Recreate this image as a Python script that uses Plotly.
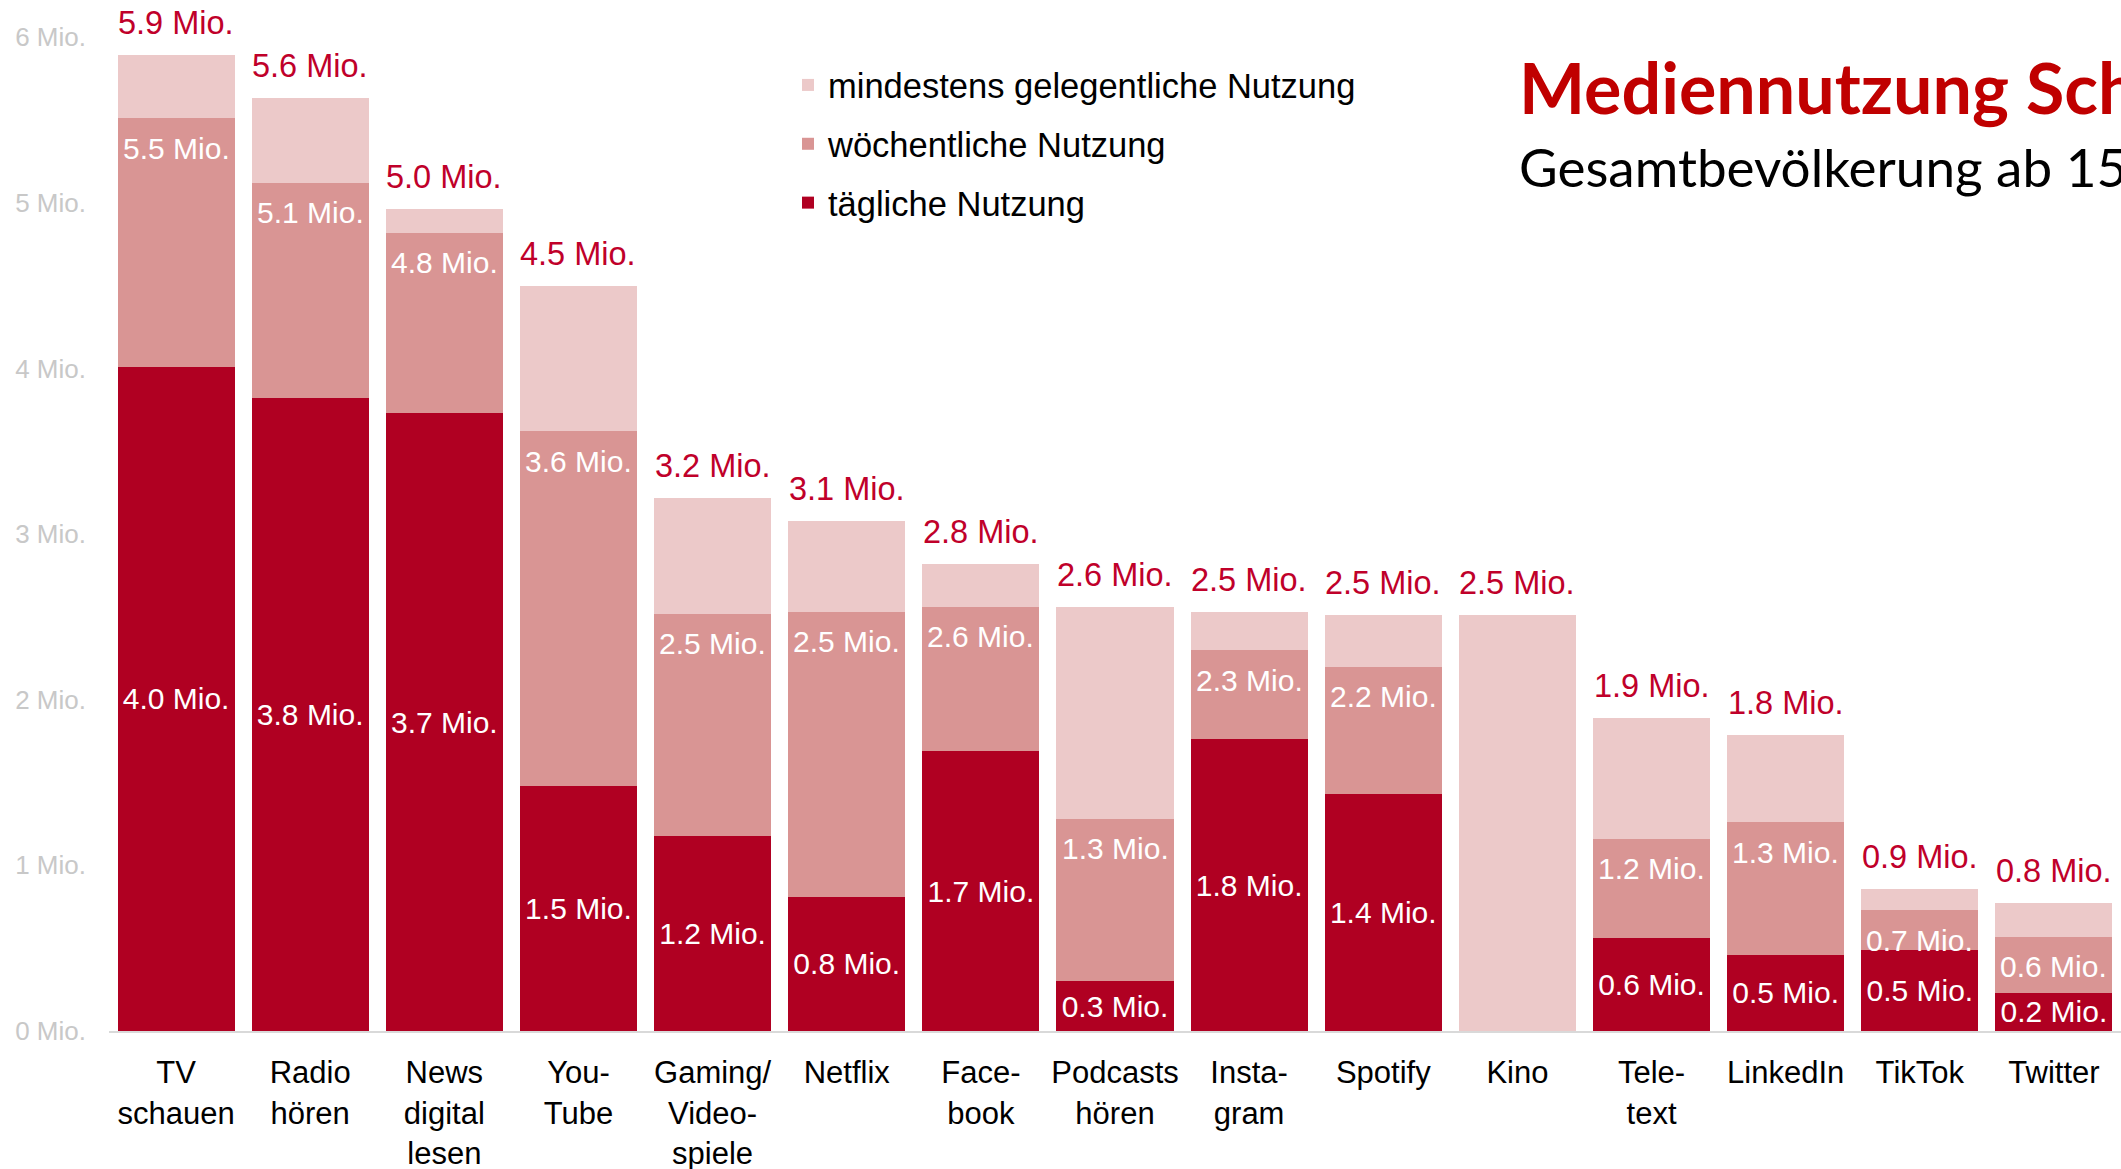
import plotly.graph_objects as go

# ---------------- data ----------------
categories = ["TV<br>schauen", "Radio<br>hören", "News<br>digital<br>lesen", "You-<br>Tube",
              "Gaming/<br>Video-<br>spiele", "Netflix", "Face-<br>book", "Podcasts<br>hören",
              "Insta-<br>gram", "Spotify", "Kino", "Tele-<br>text", "LinkedIn", "TikTok", "Twitter"]

# cumulative reach in millions
daily = [4.01, 3.82, 3.73, 1.48, 1.18, 0.81, 1.69, 0.30, 1.76, 1.43, 0.0, 0.56, 0.46, 0.49, 0.23]
weekly = [5.51, 5.12, 4.82, 3.62, 2.52, 2.53, 2.56, 1.28, 2.30, 2.20, 0.0, 1.16, 1.26, 0.73, 0.57]
occasional = [5.89, 5.63, 4.96, 4.50, 3.22, 3.08, 2.82, 2.56, 2.53, 2.51, 2.51, 1.89, 1.79, 0.86, 0.77]

series_names = ["tägliche Nutzung", "wöchentliche Nutzung", "mindestens gelegentliche Nutzung"]
y_tick_values = [0, 1, 2, 3, 4, 5, 6]
y_tick_labels = ["0 Mio.", "1 Mio.", "2 Mio.", "3 Mio.", "4 Mio.", "5 Mio.", "6 Mio."]

title_text = "Mediennutzung Schweiz"
subtitle_text = "Gesamtbevölkerung ab 15 Jahren"

# ---------------- styles ----------------
C_DAILY = "#B00022"
C_WEEKLY = "#D99594"
C_OCC = "#ECC9C9"
C_LABEL_RED = "#C0002A"
FONT = "Liberation Sans"

W, H = 2121, 1169
ML, MR, MT, MB = 109, 0, 4, 138
plot_w = W - ML - MR
plot_h = H - MT - MB

def fmt(v):
    return f"{v:.1f} Mio."

def px_x(px):
    return (px - ML) / plot_w

def px_y(py):
    return (H - MB - py) / plot_h

seg_daily = daily
seg_weekly = [w - d for w, d in zip(weekly, daily)]
seg_occ = [o - w for o, w in zip(occasional, weekly)]

fig = go.Figure()
fig.add_trace(go.Bar(
    x=categories, y=seg_daily, name=series_names[0], legendgroup="a", legendrank=3,
    marker=dict(color=C_DAILY, line=dict(width=0)),
    text=[fmt(v) if v > 0 else "" for v in daily],
    textposition="inside", insidetextanchor="middle", constraintext="none", textangle=0,
    textfont=dict(color="white", size=30, family=FONT),
))
fig.add_trace(go.Bar(
    x=categories, y=seg_weekly, name=series_names[1], legendgroup="b", legendrank=2,
    marker=dict(color=C_WEEKLY, line=dict(width=0)),
))
fig.add_trace(go.Bar(
    x=categories, y=seg_occ, name=series_names[2], legendgroup="c", legendrank=1,
    marker=dict(color=C_OCC, line=dict(width=0)),
))

annotations = []
for c, w, o in zip(categories, weekly, occasional):
    if w > 0:
        annotations.append(dict(x=c, y=w, xref="x", yref="y", text=fmt(w), showarrow=False,
                                yanchor="middle", yshift=-30,
                                font=dict(color="white", size=30, family=FONT)))
    annotations.append(dict(x=c, y=o, xref="x", yref="y", text=fmt(o), showarrow=False,
                            yanchor="middle", yshift=32,
                            font=dict(color=C_LABEL_RED, size=32.5, family=FONT)))

annotations.append(dict(x=px_x(1517), y=px_y(87), xref="paper", yref="paper",
                        text="<b>" + title_text + "</b>", showarrow=False, xanchor="left", yanchor="middle",
                        font=dict(color="#C00000", size=70, family="Lato")))
annotations.append(dict(x=px_x(1517), y=px_y(167), xref="paper", yref="paper",
                        text=subtitle_text, showarrow=False, xanchor="left", yanchor="middle",
                        font=dict(color="black", size=53, family="Lato")))

fig.update_layout(
    width=W, height=H,
    margin=dict(l=ML, r=MR, t=MT, b=MB, pad=0, autoexpand=False),
    barmode="stack", bargap=0.127,
    plot_bgcolor="white", paper_bgcolor="white",
    font=dict(family=FONT, color="black"),
    showlegend=True,
    legend=dict(
        x=px_x(788), y=px_y(56), xanchor="left", yanchor="top",
        traceorder="grouped", tracegroupgap=11,
        font=dict(size=34.5, color="black", family=FONT),
        bgcolor="rgba(0,0,0,0)",
    ),
    xaxis=dict(
        type="category", range=[-0.5, 14.5], automargin=False,
        showgrid=False, zeroline=False, showline=True, linecolor="#D9D9D9", linewidth=2,
        ticks="", tickangle=0, tickfont=dict(size=31, color="black", family=FONT), ticklabelstandoff=13,
    ),
    yaxis=dict(
        range=[0, 6.2], showgrid=False, zeroline=False, showline=False, automargin=False,
        tickvals=y_tick_values, ticktext=y_tick_labels, ticks="",
        tickfont=dict(size=26, color="#C8C8C8", family=FONT), ticklabelstandoff=22,
    ),
    annotations=annotations,
)

fig.write_html("out.html", config={"displayModeBar": False},
               post_script="document.body.style.margin='0';document.body.style.overflow='hidden';")
